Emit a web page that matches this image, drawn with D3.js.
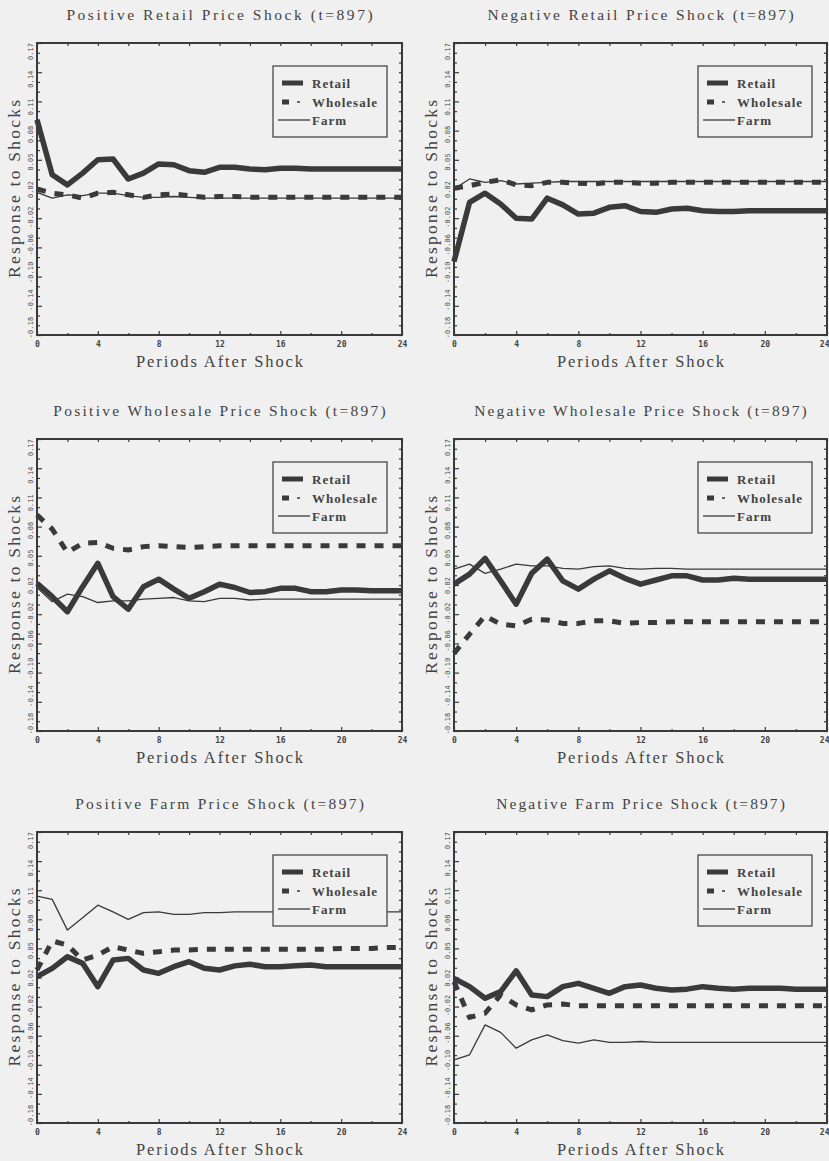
<!DOCTYPE html>
<html>
<head>
<meta charset="utf-8">
<script src="https://cdn.jsdelivr.net/npm/d3@7"></script>
<style>
  body { margin: 0; background: #f0f0f0; }
  svg { display: block; }
</style>
</head>
<body>
<svg id="chart" width="829" height="1161"></svg>
<script>
// periods after the shock (x categories)
const periods = [0, 1, 2, 3, 4, 5, 6, 7, 8, 9, 10, 11, 12, 13, 14, 15, 16, 17, 18, 19, 20, 21, 22, 23, 24];
const xTicks = [0, 4, 8, 12, 16, 20, 24];
const xMinor = [2, 6, 10, 14, 18, 22];
const yTickValues = [-0.18, -0.145, -0.11, -0.075, -0.04, -0.005, 0.03, 0.065, 0.10, 0.135, 0.17];
const yTickLabels = ['-0.18', '-0.14', '-0.10', '-0.06', '-0.02', '0.02', '0.05', '0.08', '0.11', '0.14', '0.17'];
const seriesNames = ['Retail', 'Wholesale', 'Farm'];

const titles = [
  'Positive Retail Price Shock (t=897)',
  'Negative Retail Price Shock (t=897)',
  'Positive Wholesale Price Shock (t=897)',
  'Negative Wholesale Price Shock (t=897)',
  'Positive Farm Price Shock (t=897)',
  'Negative Farm Price Shock (t=897)'
];

// responses
const posRetailRetail = [0.078, 0.012, 0.000, 0.014, 0.030, 0.031, 0.007, 0.014, 0.025, 0.024, 0.017, 0.015, 0.021, 0.021, 0.019, 0.018, 0.020, 0.020, 0.019, 0.019, 0.019, 0.019, 0.019, 0.019, 0.019];
const posRetailWholesale = [-0.005, -0.010, -0.012, -0.016, -0.010, -0.009, -0.012, -0.015, -0.012, -0.011, -0.013, -0.015, -0.014, -0.014, -0.015, -0.015, -0.015, -0.015, -0.015, -0.015, -0.015, -0.015, -0.015, -0.015, -0.015];
const posRetailFarm = [-0.009, -0.016, -0.012, -0.013, -0.010, -0.010, -0.013, -0.015, -0.015, -0.014, -0.015, -0.016, -0.016, -0.016, -0.016, -0.016, -0.016, -0.016, -0.016, -0.016, -0.016, -0.016, -0.016, -0.016, -0.016];

const negRetailRetail = [-0.092, -0.021, -0.010, -0.023, -0.040, -0.041, -0.016, -0.024, -0.035, -0.034, -0.027, -0.025, -0.032, -0.033, -0.029, -0.028, -0.031, -0.032, -0.032, -0.031, -0.031, -0.031, -0.031, -0.031, -0.031];
const negRetailWholesale = [-0.004, -0.001, 0.003, 0.006, 0.000, -0.001, 0.003, 0.003, 0.002, 0.001, 0.003, 0.003, 0.002, 0.002, 0.003, 0.003, 0.003, 0.003, 0.003, 0.003, 0.003, 0.003, 0.003, 0.003, 0.003];
const negRetailFarm = [-0.005, 0.007, 0.003, 0.005, 0.001, 0.002, 0.003, 0.004, 0.004, 0.004, 0.004, 0.004, 0.004, 0.004, 0.004, 0.004, 0.004, 0.004, 0.004, 0.004, 0.004, 0.004, 0.004, 0.004, 0.004];

const posWholesaleRetail = [-0.003, -0.019, -0.037, -0.007, 0.021, -0.019, -0.034, -0.007, 0.002, -0.010, -0.021, -0.013, -0.004, -0.008, -0.014, -0.013, -0.009, -0.009, -0.013, -0.013, -0.011, -0.011, -0.012, -0.012, -0.012];
const posWholesaleWholesale = [0.079, 0.062, 0.034, 0.045, 0.046, 0.039, 0.037, 0.041, 0.042, 0.041, 0.040, 0.041, 0.042, 0.042, 0.042, 0.042, 0.042, 0.042, 0.042, 0.042, 0.042, 0.042, 0.042, 0.042, 0.042];
const posWholesaleFarm = [-0.008, -0.025, -0.016, -0.019, -0.026, -0.024, -0.024, -0.022, -0.021, -0.020, -0.024, -0.025, -0.021, -0.021, -0.023, -0.022, -0.022, -0.022, -0.022, -0.022, -0.022, -0.022, -0.022, -0.022, -0.022];

const negWholesaleRetail = [-0.004, 0.008, 0.027, 0.000, -0.028, 0.009, 0.026, 0.000, -0.010, 0.002, 0.012, 0.003, -0.004, 0.001, 0.006, 0.006, 0.001, 0.001, 0.003, 0.002, 0.002, 0.002, 0.002, 0.002, 0.002];
const negWholesaleWholesale = [-0.087, -0.064, -0.042, -0.052, -0.054, -0.046, -0.047, -0.051, -0.051, -0.048, -0.048, -0.051, -0.050, -0.050, -0.049, -0.049, -0.049, -0.049, -0.049, -0.049, -0.049, -0.049, -0.049, -0.049, -0.049];
const negWholesaleFarm = [0.014, 0.020, 0.009, 0.014, 0.020, 0.018, 0.018, 0.015, 0.014, 0.017, 0.018, 0.015, 0.014, 0.015, 0.015, 0.014, 0.014, 0.014, 0.014, 0.014, 0.014, 0.014, 0.014, 0.014, 0.014];

const posFarmRetail = [-0.004, 0.006, 0.020, 0.012, -0.016, 0.016, 0.018, 0.004, 0.000, 0.008, 0.014, 0.006, 0.004, 0.009, 0.011, 0.008, 0.008, 0.009, 0.010, 0.008, 0.008, 0.008, 0.008, 0.008, 0.008];
const posFarmWholesale = [0.004, 0.039, 0.034, 0.016, 0.022, 0.032, 0.028, 0.024, 0.026, 0.028, 0.028, 0.029, 0.029, 0.029, 0.029, 0.029, 0.029, 0.029, 0.029, 0.029, 0.030, 0.030, 0.030, 0.031, 0.031];
const posFarmFarm = [0.093, 0.089, 0.052, 0.067, 0.082, 0.074, 0.065, 0.073, 0.074, 0.071, 0.071, 0.073, 0.073, 0.074, 0.074, 0.074, 0.074, 0.074, 0.074, 0.074, 0.074, 0.074, 0.074, 0.074, 0.074];

const negFarmRetail = [-0.006, -0.016, -0.030, -0.022, 0.003, -0.026, -0.028, -0.016, -0.012, -0.018, -0.024, -0.016, -0.014, -0.018, -0.020, -0.019, -0.016, -0.018, -0.019, -0.018, -0.018, -0.018, -0.019, -0.019, -0.019];
const negFarmWholesale = [-0.010, -0.053, -0.048, -0.026, -0.038, -0.044, -0.038, -0.037, -0.039, -0.039, -0.039, -0.039, -0.039, -0.039, -0.039, -0.039, -0.039, -0.039, -0.039, -0.039, -0.039, -0.039, -0.039, -0.039, -0.039];
const negFarmFarm = [-0.104, -0.098, -0.062, -0.071, -0.090, -0.080, -0.074, -0.081, -0.084, -0.080, -0.083, -0.083, -0.082, -0.083, -0.083, -0.083, -0.083, -0.083, -0.083, -0.083, -0.083, -0.083, -0.083, -0.083, -0.083];

const panelSeries = [
  [posRetailRetail, posRetailWholesale, posRetailFarm],
  [negRetailRetail, negRetailWholesale, negRetailFarm],
  [posWholesaleRetail, posWholesaleWholesale, posWholesaleFarm],
  [negWholesaleRetail, negWholesaleWholesale, negWholesaleFarm],
  [posFarmRetail, posFarmWholesale, posFarmFarm],
  [negFarmRetail, negFarmWholesale, negFarmFarm]
];

// layout of the plot frames
const cols = [{ x0: 37, x1: 402 }, { x0: 454, x1: 827 }];
const rows = [{ y0: 43, y1: 335 }, { y0: 439, y1: 731 }, { y0: 832, y1: 1123 }];

const ink = '#3a3a3a';
const textInk = '#434343';
const bg = '#f0f0f0';
const serif = 'Liberation Serif, DejaVu Serif, serif';

const styles = [
  { width: 5.5, dash: null },
  { width: 5, dash: '9,9' },
  { width: 1.3, dash: null }
];

const svg = d3.select('#chart');
svg.append('rect').attr('width', 829).attr('height', 1161).attr('fill', bg);

titles.forEach((title, i) => {
  const c = cols[i % 2];
  const r = rows[Math.floor(i / 2)];
  drawPanel(title, panelSeries[i], c.x0, c.x1, r.y0, r.y1);
});

function drawPanel(title, series, x0, x1, y0, y1) {
  const g = svg.append('g');

  const x = d3.scaleLinear().domain([0, 24]).range([x0, x1]);
  const y = d3.scaleLinear().domain([-0.18, 0.17]).range([y1, y0]);

  // title
  g.append('text')
    .attr('x', (x0 + x1) / 2)
    .attr('y', y0 - 23)
    .attr('text-anchor', 'middle')
    .attr('textLength', title.length * 8.75)
    .attr('lengthAdjust', 'spacing')
    .style('font-family', serif)
    .style('font-size', '15.5px')
    .attr('fill', textInk)
    .text(title);

  // lines
  const line = d3.line()
    .x((d, i) => x(periods[i]))
    .y((d) => y(d));

  series.forEach((values, k) => {
    g.append('path')
      .datum(values)
      .attr('d', line)
      .attr('fill', 'none')
      .attr('stroke', ink)
      .attr('stroke-width', styles[k].width)
      .attr('stroke-dasharray', styles[k].dash)
      .attr('stroke-linejoin', 'round');
  });

  // minor ticks on the y axis
  const yMinor = [];
  for (let i = 0; i < yTickValues.length - 1; i++) {
    const step = (yTickValues[i + 1] - yTickValues[i]) / 3;
    yMinor.push(yTickValues[i] + step, yTickValues[i] + 2 * step);
  }

  const axisStyle = (sel) => {
    sel.select('.domain').remove();
    sel.selectAll('line').attr('stroke', ink).attr('stroke-width', 1.2);
  };

  // left axis with rotated labels, pulled slightly inward at both ends
  const nLab = yTickValues.length - 1;
  const left = g.append('g')
    .attr('transform', `translate(${x0},0)`)
    .call(d3.axisLeft(y).tickValues(yTickValues)
      .tickFormat((d, i) => yTickLabels[i]).tickSize(-5))
    .call(axisStyle);
  left.selectAll('text')
    .attr('x', null).attr('dy', null)
    .attr('transform', (d, i) => `translate(-4,${-8 + i * 16 / nLab}) rotate(-90)`)
    .attr('text-anchor', 'middle')
    .attr('fill', textInk)
    .style('font-family', 'DejaVu Sans Mono, monospace')
    .style('font-size', '6.8px')
    .style('letter-spacing', '0.2px');

  g.append('g')
    .attr('transform', `translate(${x0},0)`)
    .call(d3.axisLeft(y).tickValues(yMinor).tickFormat('').tickSize(-3))
    .call(axisStyle);

  // right axis ticks
  g.append('g')
    .attr('transform', `translate(${x1},0)`)
    .call(d3.axisRight(y).tickValues(yTickValues.concat(yMinor)).tickFormat('').tickSize(-3))
    .call(axisStyle);

  // bottom axis
  const bottom = g.append('g')
    .attr('transform', `translate(0,${y1})`)
    .call(d3.axisBottom(x).tickValues(xTicks).tickSize(-4).tickPadding(6))
    .call(axisStyle);
  bottom.selectAll('text')
    .attr('fill', textInk)
    .attr('text-anchor', (d) => (d === 24 && x1 > 820) ? 'end' : 'middle')
    .attr('x', (d) => (d === 24 && x1 > 820) ? 829 - x1 : 0)
    .style('font-family', 'DejaVu Sans Mono, monospace')
    .style('font-size', '8px')
    .style('font-weight', 'bold');

  g.append('g')
    .attr('transform', `translate(0,${y1})`)
    .call(d3.axisBottom(x).tickValues(xMinor).tickFormat('').tickSize(-2))
    .call(axisStyle);

  // top axis ticks
  g.append('g')
    .attr('transform', `translate(0,${y0})`)
    .call(d3.axisTop(x).tickValues(xTicks.concat(xMinor)).tickFormat('').tickSize(-3))
    .call(axisStyle);

  // frame
  g.append('rect')
    .attr('x', x0).attr('y', y0)
    .attr('width', x1 - x0).attr('height', y1 - y0)
    .attr('fill', 'none')
    .attr('stroke', ink)
    .attr('stroke-width', 2);

  // axis titles
  g.append('text')
    .attr('x', (x0 + x1) / 2)
    .attr('y', y1 + 32)
    .attr('text-anchor', 'middle')
    .attr('textLength', 167)
    .attr('lengthAdjust', 'spacing')
    .style('font-family', serif)
    .style('font-size', '16.5px')
    .attr('fill', textInk)
    .text('Periods After Shock');

  g.append('text')
    .attr('transform', `translate(${x0 - 17},${(y0 + y1) / 2}) rotate(-90)`)
    .attr('text-anchor', 'middle')
    .attr('textLength', 178)
    .attr('lengthAdjust', 'spacing')
    .style('font-family', serif)
    .style('font-size', '17.5px')
    .attr('fill', textInk)
    .text('Response to Shocks');

  // legend
  const lw = 114, lh = 71;
  const legend = g.append('g')
    .attr('transform', `translate(${x1 - 15 - lw},${y0 + 23})`);
  legend.append('rect')
    .attr('width', lw).attr('height', lh)
    .attr('fill', bg)
    .attr('stroke', ink)
    .attr('stroke-width', 1.2);

  const rowsY = [17, 36, 54];
  seriesNames.forEach((name, k) => {
    const ly = rowsY[k];
    if (k === 0) {
      legend.append('line').attr('x1', 9).attr('x2', 30).attr('y1', ly).attr('y2', ly)
        .attr('stroke', ink).attr('stroke-width', 5);
    } else if (k === 1) {
      legend.append('line').attr('x1', 9).attr('x2', 16).attr('y1', ly).attr('y2', ly)
        .attr('stroke', ink).attr('stroke-width', 5);
      legend.append('line').attr('x1', 24).attr('x2', 27).attr('y1', ly).attr('y2', ly)
        .attr('stroke', ink).attr('stroke-width', 1.5);
    } else {
      legend.append('line').attr('x1', 5).attr('x2', 37).attr('y1', ly).attr('y2', ly)
        .attr('stroke', ink).attr('stroke-width', 1.3);
    }
    legend.append('text')
      .attr('x', 39)
      .attr('y', ly + 4.5)
      .style('font-family', serif)
      .style('font-size', '13px')
      .style('font-weight', 'bold')
      .style('letter-spacing', '1px')
      .attr('fill', textInk)
      .text(name);
  });
}
</script>
</body>
</html>
